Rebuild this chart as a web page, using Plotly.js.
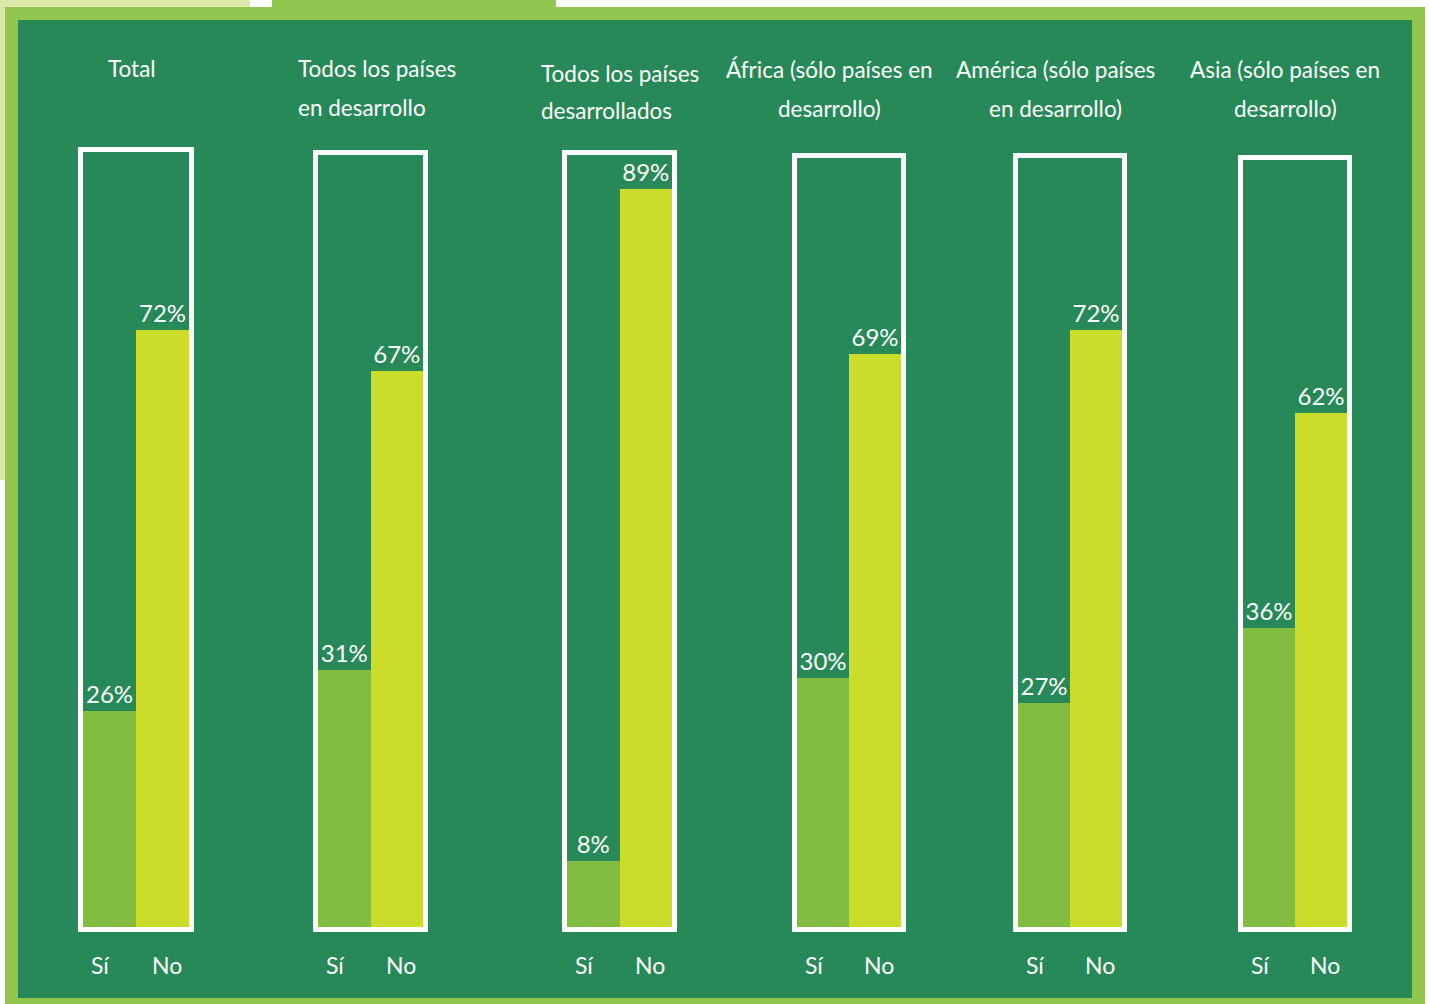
<!DOCTYPE html>
<html>
<head>
<meta charset="utf-8">
<script src="https://cdn.plot.ly/plotly-3.0.1.min.js"></script>
<style>
  html, body { margin: 0; padding: 0; background: #ffffff; }
  #chart { width: 1429px; height: 1004px; }
</style>
</head>
<body>
<div id="chart"></div>
<script>
// ---------- DATA ----------
const categories = ["Sí", "No"];
const panelTitles = [
  ["Total"],
  ["Todos los países", "en desarrollo"],
  ["Todos los países", "desarrollados"],
  ["África (sólo países en", "desarrollo)"],
  ["América (sólo países", "en desarrollo)"],
  ["Asia (sólo países en", "desarrollo)"]
];
const siValues = [26, 31, 8, 30, 27, 36];
const noValues = [72, 67, 89, 69, 72, 62];

// ---------- STYLE / LAYOUT ----------
const W = 1429, H = 1004;
const FONT = "Lato, 'Open Sans', sans-serif";
const darkGreen = "#268957";
const borderGreen = "#92C74F";
const siColor = "#82BD41";
const noColor = "#CBDC2A";

// bar area (px) for each panel: left, right
const barAreas = [[83, 189], [318, 423], [567, 672], [797, 901], [1018, 1122], [1243, 1347]];
// box top (outer, px)
const boxTops = [147, 150, 150, 153, 153, 155];
const barBottom = 927;
const yTopPx = 152;
const yMax = 93.4;

// title placement: [x, anchor, y1, y2]
const titlePos = [
  [132, "center", 69, 107],
  [296, "left", 69, 107],
  [539, "left", 73, 110],
  [829, "center", 70, 108],
  [1055, "center", 70, 108],
  [1285, "center", 70, 108]
];

const px = x => x / W;
const py = y => 1 - y / H;

const traces = [];
const layout = {
  width: W, height: H,
  margin: {l: 0, r: 0, t: 0, b: 0},
  paper_bgcolor: "#ffffff",
  plot_bgcolor: "rgba(0,0,0,0)",
  showlegend: false,
  bargap: 0,
  font: {family: FONT, color: "#ffffff", size: 22},
  yaxis: {
    domain: [py(barBottom), py(yTopPx)],
    range: [0, yMax],
    visible: false, fixedrange: true
  },
  shapes: [
    // decorative background
    {type: "rect", xref: "paper", yref: "paper", x0: 0, x1: px(250), y0: py(7), y1: 1, fillcolor: "#DDE9A8", line: {width: 0}, layer: "below"},
    {type: "rect", xref: "paper", yref: "paper", x0: 0, x1: px(6), y0: py(480), y1: 1, fillcolor: "#DDE9A8", line: {width: 0}, layer: "below"},
    {type: "rect", xref: "paper", yref: "paper", x0: px(272), x1: px(556), y0: py(7), y1: 1, fillcolor: borderGreen, line: {width: 0}, layer: "below"},
    // frame
    {type: "rect", xref: "paper", yref: "paper", x0: px(5), x1: px(1425), y0: 0, y1: py(7), fillcolor: borderGreen, line: {width: 0}, layer: "below"},
    {type: "rect", xref: "paper", yref: "paper", x0: px(18), x1: px(1412), y0: py(998), y1: py(20), fillcolor: darkGreen, line: {width: 0}, layer: "below"}
  ],
  annotations: []
};

for (let i = 0; i < siValues.length; i++) {
  const n = i + 1;
  const xName = n === 1 ? "xaxis" : "xaxis" + n;
  const xRef = n === 1 ? "x" : "x" + n;
  const [l, r] = barAreas[i];
  layout[xName] = {
    domain: [px(l), px(r)],
    anchor: "y",
    type: "category",
    range: [-0.5, 1.5],
    visible: false, fixedrange: true
  };
  traces.push({
    type: "bar",
    x: categories,
    y: [siValues[i], noValues[i]],
    xaxis: xRef, yaxis: "y",
    width: 1,
    marker: {color: [siColor, noColor], line: {width: 0}},
    text: [siValues[i] + "%", noValues[i] + "%"],
    texttemplate: "%{text}",
    textposition: "outside",
    outsidetextfont: {family: FONT, size: 24, color: "#ffffff"},
    cliponaxis: false,
    hoverinfo: "skip"
  });
  // white box
  layout.shapes.push({
    type: "rect", xref: "paper", yref: "paper",
    x0: px(l - 2.5), x1: px(r + 2.5),
    y0: py(barBottom + 2.5), y1: py(boxTops[i] + 2.5),
    line: {color: "#ffffff", width: 5}, fillcolor: "rgba(0,0,0,0)", layer: "above"
  });
  // category labels
  const offs = [-0.17, 0.08];
  categories.forEach((c, k) => {
    layout.annotations.push({
      xref: xRef, yref: "paper", x: k + offs[k], y: py(965),
      text: c, showarrow: false, xanchor: "center", yanchor: "middle",
      font: {family: FONT, size: 23, color: "#ffffff"}
    });
  });
  // titles
  const [tx, anchor, ty1, ty2] = titlePos[i];
  panelTitles[i].forEach((line, k) => {
    layout.annotations.push({
      xref: "paper", yref: "paper", x: px(tx), y: py(k === 0 ? ty1 : ty2),
      text: line, showarrow: false, xanchor: anchor, yanchor: "middle",
      font: {family: FONT, size: 22.5, color: "#ffffff"}
    });
  });
}

Plotly.newPlot("chart", traces, layout, {displayModeBar: false, staticPlot: true});
</script>
</body>
</html>
